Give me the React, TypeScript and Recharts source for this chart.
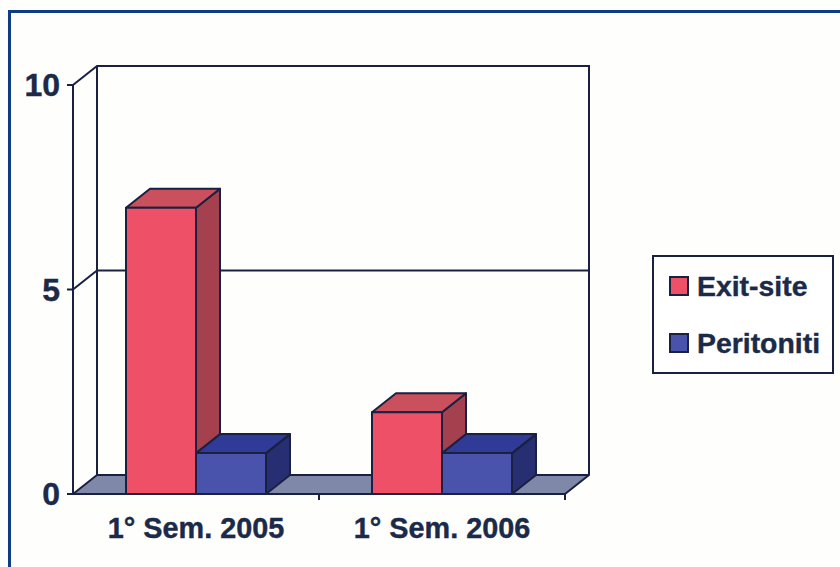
import { Bar, BarChart, Legend, ReferenceLine, XAxis, YAxis } from "recharts";

const semesters = ["1° Sem. 2005", "1° Sem. 2006"];
const exitSite = [7, 2];
const peritoniti = [1, 1];
const yTicks = [0, 5, 10];

const rows = semesters.map((semester, i) => ({
  semester,
  "Exit-site": exitSite[i],
  Peritoniti: peritoniti[i],
}));

const INK = "#1a2140";
const TEXT = "#1b2a48";
const FONT = "'Liberation Sans', Arial, sans-serif";
const LINE = 2;
// depth of the fake 3D box
const DX = 24;
const DY = 19;

const RED = { front: "#ee5068", top: "#c9505c", side: "#a5414e" };
const BLUE = { front: "#4a53ab", top: "#2f3b96", side: "#272f72" };

function box(colors: typeof RED) {
  return (props: any) => {
    const { x, y, width, height } = props;
    const r = x + width;
    const b = y + height;
    return (
      <g stroke={INK} strokeWidth={LINE} strokeLinejoin="round">
        <path d={`M${r},${y} L${r + DX},${y - DY} L${r + DX},${b - DY} L${r},${b} Z`} fill={colors.side} />
        <path d={`M${x},${y} L${x + DX},${y - DY} L${r + DX},${y - DY} L${r},${y} Z`} fill={colors.top} />
        <rect x={x} y={y} width={width} height={height} fill={colors.front} />
      </g>
    );
  };
}

// floor plate, plus the tick marks at the category boundaries
function Floor({ x1, y1, x2 }: any) {
  const mid = (x1 + x2) / 2;
  return (
    <g stroke={INK} strokeWidth={LINE}>
      <path
        d={`M${x1},${y1} L${x1 + DX},${y1 - DY} L${x2 + DX},${y1 - DY} L${x2},${y1} Z`}
        fill="#8088aa"
        strokeLinejoin="round"
      />
      <path d={`M${mid},${y1} v6 M${x2},${y1} v6`} fill="none" />
    </g>
  );
}

// back wall line for a value, running in from the front axis
function WallLine({ x1, y1, x2 }: any) {
  return (
    <path
      d={`M${x1},${y1} L${x1 + DX},${y1 - DY} L${x2 + DX},${y1 - DY}`}
      fill="none"
      stroke={INK}
      strokeWidth={LINE}
    />
  );
}

// top rim of the wall with its two uprights
function WallTop({ x1, y1, x2 }: any) {
  const floorY = y1 + 409 - DY;
  return (
    <g fill="none" stroke={INK} strokeWidth={LINE}>
      <path d={`M${x1},${y1} L${x1 + DX},${y1 - DY} L${x2 + DX},${y1 - DY} L${x2 + DX},${floorY}`} />
      <path d={`M${x1 + DX},${y1 - DY} L${x1 + DX},${floorY}`} />
    </g>
  );
}

function LegendBox({ payload }: any) {
  return (
    <div
      style={{
        width: 182,
        height: 119,
        boxSizing: "border-box",
        border: `2px solid ${INK}`,
        background: "#fff",
        position: "relative",
      }}
    >
      {(payload ?? []).map((entry: any, i: number) => (
        <div
          key={entry.value}
          style={{
            position: "absolute",
            left: 15,
            top: 13 + i * 57,
            display: "flex",
            alignItems: "center",
            height: 32,
            fontFamily: FONT,
            fontWeight: 700,
            fontSize: 28.4,
            WebkitTextStroke: `0.4px ${TEXT}`,
            color: TEXT,
            whiteSpace: "nowrap",
          }}
        >
          <span
            style={{
              width: 16,
              height: 16,
              marginRight: 8,
              background: entry.color,
              border: `2px solid ${INK}`,
              display: "inline-block",
            }}
          />
          {entry.value}
        </div>
      ))}
    </div>
  );
}

export default function App() {
  return (
    <div style={{ position: "absolute", left: 0, top: 0, width: 840, height: 567, background: "#fefefc", overflow: "hidden" }}>
      <div
        style={{
          position: "absolute",
          left: 8,
          top: 10,
          width: 840,
          height: 567,
          borderLeft: "3px solid #0f3d85",
          borderTop: "3px solid #0f3d85",
        }}
      />
      <BarChart
        width={840}
        height={567}
        data={rows}
        barGap={0}
        barCategoryGap={53}
        margin={{ top: 85, right: 275, bottom: 0, left: 0 }}
        style={{ position: "absolute", left: 0, top: 0 }}
      >
        <YAxis
          type="number"
          domain={[0, 10]}
          ticks={yTicks}
          width={73}
          tickSize={6}
          tickMargin={7}
          interval={0}
          axisLine={{ stroke: INK, strokeWidth: LINE }}
          tickLine={{ stroke: INK, strokeWidth: LINE }}
          tick={{ fill: TEXT, stroke: TEXT, strokeWidth: 0.4, fontFamily: FONT, fontWeight: 700, fontSize: 32 }}
        />
        <XAxis
          dataKey="semester"
          height={73}
          tickLine={false}
          axisLine={false}
          tickMargin={18}
          interval={0}
          tick={{ fill: TEXT, stroke: TEXT, strokeWidth: 0.4, fontFamily: FONT, fontWeight: 700, fontSize: 28.8 }}
        />
        <ReferenceLine y={10} shape={WallTop} zIndex={-20} />
        <ReferenceLine y={5} shape={WallLine} zIndex={-20} />
        <ReferenceLine y={0} shape={Floor} zIndex={-20} />
        <Legend
          layout="horizontal"
          verticalAlign="middle"
          wrapperStyle={{ left: 652, top: 255, width: 182, height: 119 }}
          content={LegendBox}
        />
        <Bar dataKey="Exit-site" fill={RED.front} shape={box(RED)} isAnimationActive={false} />
        <Bar dataKey="Peritoniti" fill={BLUE.front} shape={box(BLUE)} isAnimationActive={false} />
      </BarChart>
    </div>
  );
}
